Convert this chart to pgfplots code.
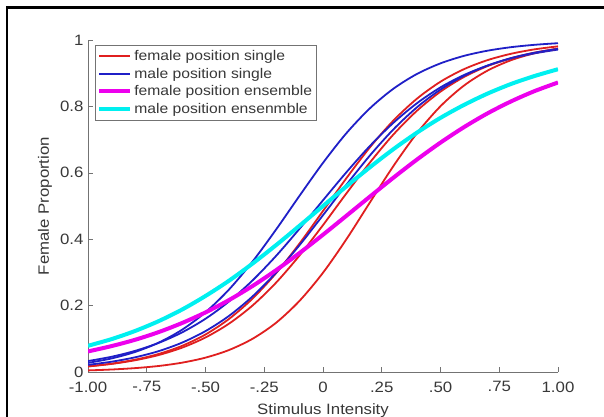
\documentclass[border=0pt]{standalone}
\usepackage{fontspec}
\setmainfont{Liberation Sans}[FakeStretch=1.12]
\usepackage{pgfplots}
\pgfplotsset{compat=1.18}
\definecolor{cred}{rgb}{0.88,0.12,0.12}
\definecolor{cblue}{rgb}{0.12,0.12,0.78}
\definecolor{cmag}{rgb}{0.93,0.0,0.93}
\definecolor{ccyan}{rgb}{0.0,0.94,0.94}
\definecolor{axgray}{rgb}{0.45,0.45,0.45}
\definecolor{txgray}{rgb}{0.22,0.22,0.22}

\pgfplotstableread{
x R1 R2 R3 B1 B2 B3 M C
-1.0 0.0048 0.0170 0.0167 0.0275 0.0330 0.0216 0.0620 0.0790
-0.9 0.0075 0.0251 0.0243 0.0408 0.0459 0.0310 0.0780 0.0990
-0.8 0.0117 0.0370 0.0353 0.0603 0.0636 0.0442 0.0970 0.1235
-0.7 0.0181 0.0542 0.0510 0.0882 0.0875 0.0627 0.1200 0.1530
-0.6 0.0281 0.0787 0.0732 0.1272 0.1192 0.0884 0.1475 0.1880
-0.5 0.0433 0.1130 0.1040 0.1800 0.1604 0.1232 0.1795 0.2290
-0.4 0.0662 0.1598 0.1456 0.2484 0.2124 0.1690 0.2167 0.2750
-0.3 0.1000 0.2210 0.2002 0.3325 0.2757 0.2276 0.2590 0.3265
-0.2 0.1481 0.2973 0.2689 0.4288 0.3495 0.2990 0.3065 0.3820
-0.1 0.2142 0.3870 0.3509 0.5307 0.4314 0.3820 0.3583 0.4405
0.0 0.2990 0.4850 0.4425 0.6300 0.5172 0.4723 0.4135 0.5000
0.1 0.4003 0.5842 0.5384 0.7197 0.6020 0.5644 0.4708 0.5593
0.2 0.5112 0.6770 0.6313 0.7945 0.6812 0.6525 0.5285 0.6169
0.3 0.6208 0.7577 0.7157 0.8535 0.7509 0.7311 0.5855 0.6714
0.4 0.7195 0.8234 0.7871 0.8978 0.8097 0.7974 0.6400 0.7210
0.5 0.8006 0.8744 0.8445 0.9297 0.8573 0.8508 0.6910 0.7655
0.6 0.8628 0.9122 0.8886 0.9522 0.8945 0.8920 0.7375 0.8045
0.7 0.9078 0.9394 0.9214 0.9678 0.9229 0.9228 0.7790 0.8385
0.8 0.9391 0.9585 0.9451 0.9784 0.9442 0.9455 0.8150 0.8675
0.9 0.9602 0.9718 0.9620 0.9855 0.9598 0.9616 0.8460 0.8915
1.0 0.9742 0.9809 0.9738 0.9904 0.9712 0.9732 0.8720 0.9120
}\curves

\begin{document}
\begin{tikzpicture}[x=1pt,y=1pt]
\path[use as bounding box] (0,0) rectangle (604,416);
\clip (0,0) rectangle (604,416);
\fill[white] (0,0) rectangle (604,416);
\draw[line width=2.3pt, line cap=rect] (7,-5) -- (7,408.5) -- (610,408.5);
\begin{axis}[
  at={(88pt,44pt)}, anchor=south west,
  width=470pt, height=332pt, scale only axis,
  xmin=-1, xmax=1, ymin=0, ymax=1,
  axis x line*=bottom, axis y line*=left,
  axis line style={draw=axgray, line width=0.6pt},
  every tick/.style={draw=axgray, line width=0.6pt},
  tick align=inside, major tick length=5pt,
  xtick={-1,-0.75,-0.5,-0.25,0,0.25,0.5,0.75,1},
  xticklabels={-1.00,-.75,-.50,-.25,0,.25,.50,.75,1.00},
  ytick={0,0.2,0.4,0.6,0.8,1},
  yticklabels={0,0.2,0.4,0.6,0.8,1},
  tick label style={font=\fontsize{15}{17}\selectfont, text=txgray},
  xticklabel style={yshift=-6pt},
  yticklabel style={xshift=-1pt},
  xlabel={Stimulus Intensity},
  ylabel={Female Proportion},
  label style={font=\fontsize{15}{17}\selectfont, text=txgray},
  every axis x label/.append style={at={(axis description cs:0.5,-0.1155)}, anchor=center},
  every axis y label/.append style={at={(axis description cs:-0.0915,0.5)}, anchor=center},
  legend style={at={(axis description cs:0.015,0.985)}, anchor=north west,
    draw=axgray, line width=0.5pt, fill=white,
    font=\fontsize{14}{16}\selectfont, text=txgray,
    inner xsep=2pt, inner ysep=3pt, row sep=2pt},
  legend cell align=left,
  legend image code/.code={\draw[#1] (0pt,0pt) -- (31pt,0pt);},
]
\addlegendimage{cred, line width=1.8pt}
\addlegendentry{female position single}
\addlegendimage{cblue, line width=1.8pt}
\addlegendentry{male position single}
\addlegendimage{cmag, line width=4pt}
\addlegendentry{female position ensemble}
\addlegendimage{ccyan, line width=4pt}
\addlegendentry{male position ensenmble}

\addplot[cred, line width=1.8pt, smooth, forget plot] table[x=x, y=R1] {\curves};
\addplot[cblue, line width=1.8pt, smooth, forget plot] table[x=x, y=B1] {\curves};
\addplot[cred, line width=1.8pt, smooth, forget plot] table[x=x, y=R2] {\curves};
\addplot[cblue, line width=1.8pt, smooth, forget plot] table[x=x, y=B2] {\curves};
\addplot[cred, line width=1.8pt, smooth, forget plot] table[x=x, y=R3] {\curves};
\addplot[cblue, line width=1.8pt, smooth, forget plot] table[x=x, y=B3] {\curves};
\addplot[cmag, line width=4pt, smooth, forget plot] table[x=x, y=M] {\curves};
\addplot[ccyan, line width=4pt, smooth, forget plot] table[x=x, y=C] {\curves};
\end{axis}
\end{tikzpicture}
\end{document}
